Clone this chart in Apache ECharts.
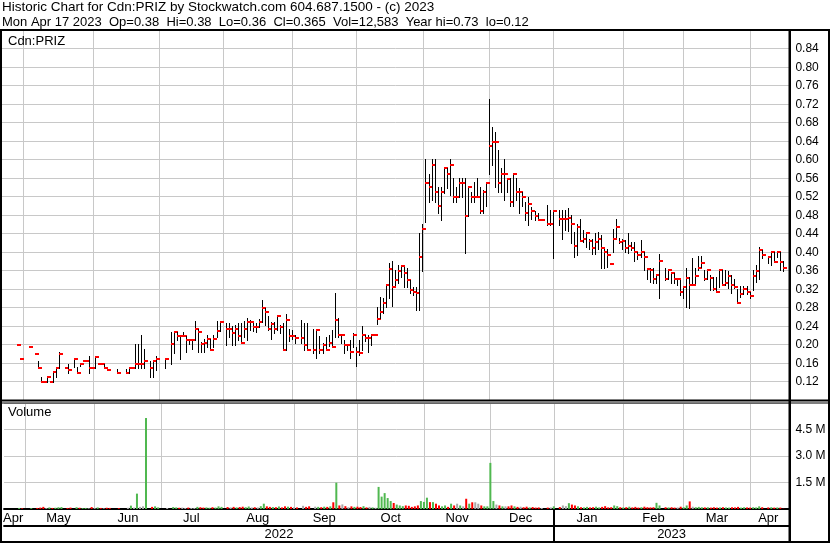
<!DOCTYPE html>
<html><head><meta charset="utf-8">
<script src="https://cdn.jsdelivr.net/npm/echarts@6/dist/echarts.min.js"></script>
<style>html,body{margin:0;padding:0;background:#fff}#c{width:830px;height:543px}</style>
</head><body><div id="c"></div>
<script>
const _ = null;
// one slot per weekday from startDate; null = no trade
const startDate = '2022-04-21';
const slotCount = 261;
const highs = [
_,_,_,_,_,.20,.17,_,_,.195,
_,.18,.165,.13,.12,.13,.12,.14,.15,.185,
_,.15,.158,_,.172,.152,.16,.165,.165,.176,
.15,.174,.158,.158,.158,.145,_,_,.147,_,
_,.147,.15,.15,.201,.201,.221,.191,_,.165,
.165,.176,_,_,.17,_,.227,.227,.227,.219,
.227,.219,.211,.211,.251,.235,.205,.212,.221,.212,
.221,.251,.25,_,.246,.246,.24,.243,.246,.246,
.251,.257,.253,.248,.246,.256,.297,.279,.261,.25,
.25,.264,.243,.246,.266,.235,.232,.221,_,.253,
.246,.246,_,.235,.232,.219,.203,.217,.221,.232,
.312,.257,.22,.21,.199,.21,.226,.196,.21,.24,
.221,.221,.22,.22,.281,.304,.30,.331,.377,.381,
.362,.372,.372,.369,.365,.34,.325,.325,.441,.461,
.602,.57,.602,.602,.542,.542,.581,.581,.602,.56,
.542,.56,.56,.56,.542,.531,.552,.56,.542,.534,
.55,.731,.671,.66,.621,.581,.602,.56,.56,.57,
.56,.538,.531,.509,.52,.498,.489,.484,.47,_,
.502,.491,.49,_,.491,.491,.491,.495,.48,.444,
.462,.471,.448,.441,.428,.428,.441,.444,.437,.408,
.406,.375,.451,.471,.43,.428,.426,.441,.423,.423,
.401,.426,.401,.365,.365,.365,.35,.396,_,.365,
.361,.358,.354,.341,.34,.325,.365,.347,.387,.365,
.392,.392,.361,.361,.35,.347,.347,.361,.361,.361,
.36,.351,.341,.32,.327,.327,.327,.315,.361,.372,
.412,.405,_,.392,.40,.40,.40,.40,.38,_,
_];
const lows = [
_,_,_,_,_,.20,.17,_,_,.195,
_,.18,.15,.12,.12,.12,.12,.12,.13,.15,
_,.15,.139,_,.152,.139,.155,.165,.165,.139,
.15,.15,.158,.158,.15,.145,_,_,.138,_,
_,.138,.139,.15,.15,.15,.15,.15,_,.131,
.131,.145,_,_,.15,_,.158,.181,.21,.17,
.219,.185,.201,.19,.211,.185,.185,.185,.196,.189,
.196,.216,.23,_,.199,.217,.199,.199,.21,.203,
.216,.21,.232,.23,.228,.238,.25,.243,.232,.212,
.225,.232,.225,.189,.189,.207,.212,.204,_,.204,
.189,.189,_,.181,.171,.181,.181,.189,.197,.196,
.216,.216,.203,.181,.189,.171,.196,.154,.178,.189,
.207,.185,.199,.22,.245,.257,.268,.282,.30,.284,
.329,.333,.347,.325,.325,.311,.307,.276,.275,.36,
.466,.509,.513,.509,.485,.47,.527,.538,.524,.509,
.509,.52,.52,.399,.478,.509,.509,.524,.485,.485,
.50,.569,.588,.54,.531,.531,.513,.531,.50,.50,
.513,.485,.50,.47,.459,.471,.47,.47,.47,_,
.459,.459,.387,_,.459,.428,.448,.445,.419,.39,
.394,.424,.423,.412,.408,.397,.396,.408,.365,.365,
.369,.374,.401,.433,.419,.408,.401,.399,.405,.38,
.386,.39,.361,.343,.336,.333,.333,.30,_,.34,
.341,.333,.333,.329,.307,.30,.282,.28,.329,.333,
.361,.369,.34,.343,.318,.318,.315,.325,.33,.329,
.322,.311,.322,.291,.304,.31,.31,.30,.318,.336,
.341,.387,_,.376,.372,.379,.39,.361,.36,_,
_];
const closes = [
_,_,_,_,_,.20,.17,_,_,.195,
_,.18,.15,.12,.12,.13,.12,.14,.15,.18,
_,.15,.145,_,.17,.139,.158,.165,.165,.15,
.15,.174,.158,.158,.15,.145,_,_,.139,_,
_,.139,.15,.15,.158,.158,.158,.165,_,.15,
.165,.17,_,_,.17,_,.201,.227,.219,.219,
.219,.211,.211,.211,.235,.227,.201,.204,.212,.189,
.212,.23,.25,_,.234,.234,.226,.234,.219,.204,
.234,.25,.25,.239,.239,.25,.28,.27,.234,.245,
.234,.261,.239,.189,.253,.219,.219,.215,_,.215,
.199,.189,_,.189,.232,.189,.199,.189,.204,.196,
.253,.22,.22,.199,.199,.185,.22,.185,.181,.22,
.215,.215,.22,.22,.255,.27,.291,.33,.364,.325,
.34,.36,.37,.356,.34,.319,.315,.311,.39,.45,
.55,.54,.588,.53,.50,.53,.581,.569,.588,.52,
.52,.55,.55,.478,.54,.52,.52,.52,.489,.53,
.55,.63,.639,.639,.55,.569,.569,.559,.509,.569,
.53,.53,.52,.485,.504,.49,.478,.47,.47,_,
.46,.46,.49,_,.471,.471,.471,.475,.46,.414,
.455,.424,.428,.441,.424,.41,.421,.429,.41,.40,
.394,.374,.429,.455,.421,.424,.41,.414,.41,.40,
.394,.40,.39,.364,.361,.341,.35,.38,_,.341,
.361,.356,.341,.341,.315,.325,.345,.33,.33,.349,
.365,.376,.341,.361,.345,.32,.315,.361,.33,.334,
.349,.329,.325,.291,.31,.32,.315,.305,.348,.36,
.405,.394,_,.39,.40,.379,.40,.379,.365,_,
_];
// volume, thousands of shares
const volumes = [
_,_,_,_,_,60,40,_,_,50,
_,60,80,120,50,90,60,70,100,110,
_,60,80,_,100,70,50,60,40,110,
50,90,60,40,70,60,_,_,50,_,
_,70,190,80,870,120,150,5150,_,120,
150,90,_,_,60,_,110,90,70,80,
60,80,60,60,120,100,80,90,70,100,
80,150,120,_,110,90,120,90,110,130,
100,140,90,100,90,160,300,150,120,110,
100,140,90,150,130,120,100,90,_,180,
120,150,_,130,120,100,130,120,150,380,
1490,200,260,160,100,150,120,130,110,160,
90,120,90,70,1250,700,900,620,450,340,
250,200,160,200,180,120,150,200,450,400,
640,390,390,300,200,150,200,120,300,200,
300,200,150,580,300,380,380,300,200,150,
150,2610,450,250,200,150,150,150,200,150,
120,130,100,130,90,110,80,90,60,_,
80,90,150,_,110,200,160,330,250,200,
150,100,90,120,90,100,130,90,120,160,
90,100,200,160,100,90,100,130,90,120,
80,100,130,100,90,100,350,200,_,100,
90,100,80,90,130,100,200,430,130,100,
120,100,90,100,80,100,80,90,100,90,
80,100,90,120,80,100,90,80,100,90,
150,100,_,90,100,80,90,80,13,_,
_];
const titleLine1 = 'Historic Chart for Cdn:PRIZ by Stockwatch.com 604.687.1500 - (c) 2023';
const titleLine2 = 'Mon Apr 17 2023  Op=0.38  Hi=0.38  Lo=0.36  Cl=0.365  Vol=12,583  Year hi=0.73  lo=0.12';
const monthNames = ['Jan','Feb','Mar','Apr','May','Jun','Jul','Aug','Sep','Oct','Nov','Dec'];

// ---- slots (weekdays) ----
function weekdays(start, n) {
  const out = [];
  const d = new Date(start + 'T00:00:00Z');
  while (out.length < n) {
    const w = d.getUTCDay();
    if (w !== 0 && w !== 6) out.push(new Date(d.getTime()));
    d.setUTCDate(d.getUTCDate() + 1);
  }
  return out;
}
const dates = weekdays(startDate, slotCount);
const dateStr = dates.map(d => d.toISOString().slice(0, 10));
// month divider: first weekday whose day-of-month >= 2
const lineSlots = [];
for (let i = 1; i < dates.length; i++) {
  const d = dates[i], p = dates[i - 1];
  if (d.getUTCDate() >= 2 && (p.getUTCMonth() !== d.getUTCMonth() || p.getUTCDate() < 2)) lineSlots.push(i);
}
const lineSet = new Set(lineSlots);
const edges = [0].concat(lineSlots, [slotCount - 1]);
const monthLabel = {};
for (let k = 0; k < edges.length - 1; k++) {
  const mid = Math.floor((edges[k] + edges[k + 1]) / 2);
  monthLabel[mid] = monthNames[dates[edges[k]].getUTCMonth()];
}
const janSlot = lineSlots.find(i => dates[i].getUTCMonth() === 0);
const yearLabel = {};
yearLabel[Math.floor(janSlot / 2)] = String(dates[0].getUTCFullYear());
yearLabel[Math.floor((janSlot + slotCount - 1) / 2)] = String(dates[janSlot].getUTCFullYear());

// ---- series data ----
const hlc = [];
const volData = [];
let prevClose = null;
for (let i = 0; i < slotCount; i++) {
  if (highs[i] != null) hlc.push([i, highs[i], lows[i], closes[i]]);
  if (volumes[i] != null) {
    let col = '#50B850';
    if (prevClose != null) {
      if (closes[i] < prevClose) col = '#FF0000';
      else if (closes[i] === prevClose) col = '#A8A8A8';
    }
    volData.push({ value: [i, volumes[i] * 1000], itemStyle: { color: col } });
  }
  if (closes[i] != null) prevClose = closes[i];
}

const FONT = '"Liberation Sans", Arial, sans-serif';
const GRID_COLOR = '#C8C8C8';
const chart = echarts.init(document.getElementById('c'), null, { renderer: 'canvas', devicePixelRatio: 1 });
const txt = (s, top, left, size) => ({ text: s, left: left, top: top, padding: 0,
  textStyle: { fontSize: size || 13, fontWeight: 'normal', color: '#000', fontFamily: FONT } });
const catAxisBase = {
  type: 'category', data: dateStr, boundaryGap: false,
  axisLine: { show: false }, axisTick: { show: false }, axisLabel: { show: false },
  splitLine: { show: true, interval: (i) => lineSet.has(i), lineStyle: { color: GRID_COLOR, width: 1 } }
};
const option = {
  animation: false,
  backgroundColor: '#fff',
  textStyle: { fontFamily: FONT },
  title: [txt(titleLine1, 0, 2, 13.5), txt(titleLine2, 16, 2), txt('Cdn:PRIZ', 35, 8), txt('Volume', 406, 8)],
  grid: [
    { left: 2, right: 40.6, top: 30.2, height: 370 },
    { left: 2, right: 40.6, top: 403, height: 106 }
  ],
  xAxis: [
    Object.assign({}, catAxisBase, { gridIndex: 0 }),
    Object.assign({}, catAxisBase, {
      gridIndex: 1, position: 'bottom',
      axisLine: { show: true, lineStyle: { color: '#000', width: 2 } },
      axisTick: { show: true, interval: (i) => i === janSlot, length: 32, inside: false, lineStyle: { color: '#000', width: 2 } },
      axisLabel: { show: true, interval: (i) => monthLabel[i] !== undefined, formatter: (v, i) => monthLabel[i] || '',
        color: '#000', fontSize: 13, fontFamily: FONT, margin: 3 }
    }),
    Object.assign({}, catAxisBase, {
      gridIndex: 1, position: 'bottom', offset: 17,
      splitLine: { show: false },
      axisLine: { show: true, lineStyle: { color: '#000', width: 2 } },
      axisLabel: { show: true, interval: (i) => yearLabel[i] !== undefined, formatter: (v, i) => yearLabel[i] || '',
        color: '#000', fontSize: 13, fontFamily: FONT, margin: 2 }
    })
  ],
  yAxis: [
    { type: 'value', gridIndex: 0, position: 'right', min: 0.08, max: 0.88, interval: 0.04,
      axisLine: { show: false }, axisTick: { show: false },
      axisLabel: { formatter: v => v.toFixed(2), showMinLabel: false, showMaxLabel: false, color: '#000', fontSize: 12, margin: 6, fontFamily: FONT },
      splitLine: { lineStyle: { color: GRID_COLOR, width: 1 } } },
    { type: 'value', gridIndex: 1, position: 'right', min: 0, max: 6e6, interval: 1.5e6,
      axisLine: { show: false }, axisTick: { show: false },
      axisLabel: { formatter: v => (v / 1e6).toFixed(1) + ' M', showMinLabel: false, showMaxLabel: false, color: '#000', fontSize: 12, margin: 6, fontFamily: FONT },
      splitLine: { lineStyle: { color: GRID_COLOR, width: 1 } } }
  ],
  series: [
    { type: 'custom', xAxisIndex: 0, yAxisIndex: 0, data: hlc, encode: { x: 0, y: [1, 2, 3] }, clip: true,
      renderItem: (params, api) => {
        const i = api.value(0);
        const pH = api.coord([i, api.value(1)]);
        const pL = api.coord([i, api.value(2)]);
        const pC = api.coord([i, api.value(3)]);
        const x = Math.floor(pH[0]);
        const yH = Math.round(pH[1]), yL = Math.round(pL[1]), yC = Math.round(pC[1]);
        const children = [];
        if (yL - yH >= 1) children.push({ type: 'rect', shape: { x: x, y: yH, width: 1, height: yL - yH + 1 }, style: { fill: '#000' } });
        children.push({ type: 'rect', shape: { x: x, y: yC - 1, width: 4, height: 2 }, style: { fill: '#FF0000' } });
        return { type: 'group', children: children };
      } },
    { type: 'bar', xAxisIndex: 1, yAxisIndex: 1, data: volData, barWidth: 2, barGap: '-100%' }
  ],
  graphic: [
    { type: 'rect', shape: { x: 0, y: 29, width: 830, height: 2 }, style: { fill: '#000' }, z: 100 },
    { type: 'rect', shape: { x: 0, y: 29, width: 2, height: 514 }, style: { fill: '#000' }, z: 100 },
    { type: 'rect', shape: { x: 788.5, y: 29, width: 2.5, height: 514 }, style: { fill: '#000' }, z: 100 },
    { type: 'rect', shape: { x: 828, y: 29, width: 2, height: 514 }, style: { fill: '#000' }, z: 100 },
    { type: 'rect', shape: { x: 0, y: 399.5, width: 830, height: 2 }, style: { fill: '#000' }, z: 100 },
    { type: 'rect', shape: { x: 0, y: 402.5, width: 830, height: 1 }, style: { fill: '#000' }, z: 100 },
    { type: 'rect', shape: { x: 0, y: 541, width: 830, height: 2 }, style: { fill: '#000' }, z: 100 }
  ]
};
chart.setOption(option);
</script></body></html>
